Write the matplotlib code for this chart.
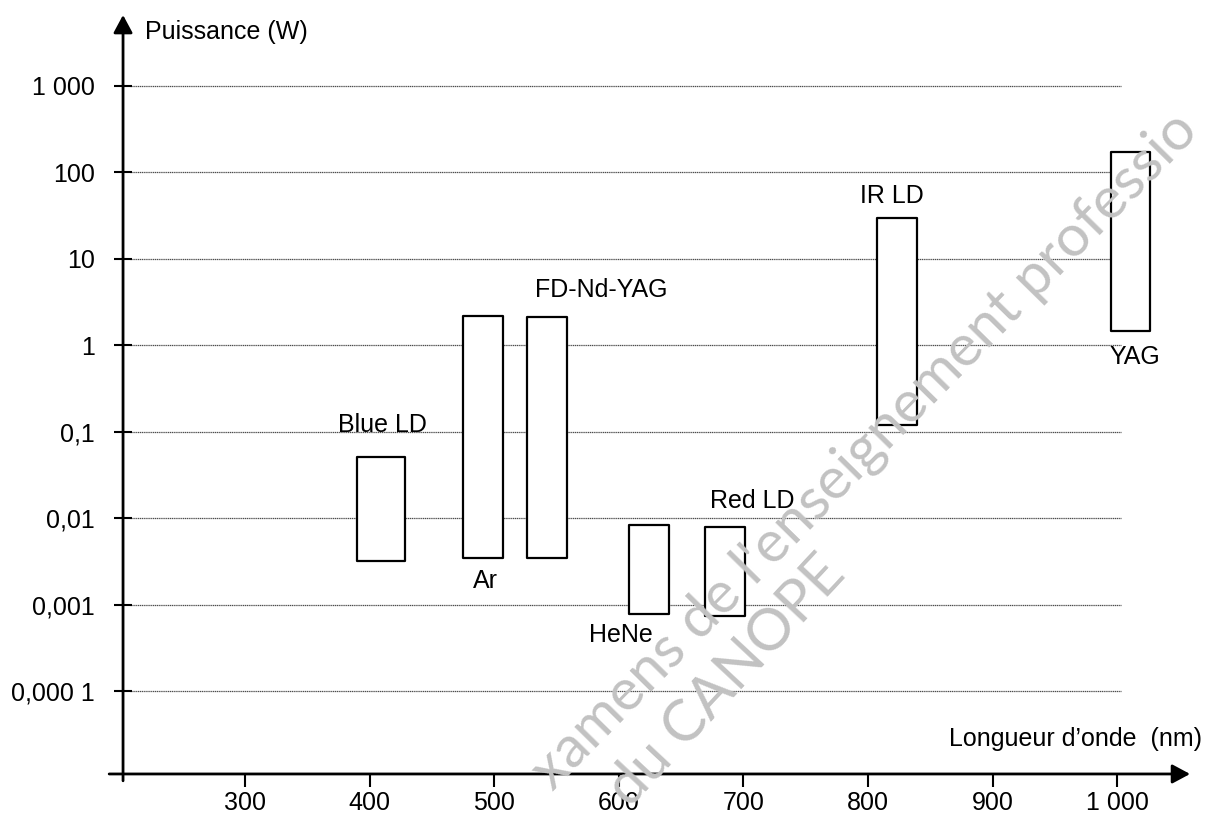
import matplotlib
matplotlib.use('Agg')
import matplotlib.pyplot as plt

plt.rcParams['font.family'] = ['Liberation Sans', 'DejaVu Sans']

# lasers: wavelength span (nm) and power span (W)
names = ['Blue LD', 'Ar', 'FD-Nd-YAG', 'HeNe', 'Red LD', 'IR LD', 'YAG']
lam_min = [390, 475, 526, 608, 669, 807, 995]
lam_max = [428, 507, 558, 640, 701, 839, 1026]
p_min = [0.0032, 0.0035, 0.0035, 0.00078, 0.00074, 0.12, 1.45]
p_max = [0.051, 2.2, 2.1, 0.0084, 0.0079, 30, 174]

# label positions (nm, W)
lab_x = [410, 493, 586, 602, 707, 819, 1014]
lab_y = [0.121, 0.00186, 4.4, 0.00045, 0.0159, 53, 0.73]

yticks = [1e-4, 1e-3, 1e-2, 1e-1, 1, 10, 100, 1000]
ylabels = ['0,000 1', '0,001', '0,01', '0,1', '1', '10', '100', '1 000']
xticks = [300, 400, 500, 600, 700, 800, 900, 1000]
xlabels = ['300', '400', '500', '600', '700', '800', '900', '1 000']

fig = plt.figure(figsize=(12.11, 8.16), dpi=100)
ax = fig.add_axes([0.1016, 0.0515, 0.8811, 0.9301])
ax.set_yscale('log')
ax.set_xlim(202.1, 1058.4)
ax.set_ylim(1.096e-5, 6622)

for s in ax.spines.values():
    s.set_visible(False)

# axes with arrows
arrow = dict(arrowstyle='-|>,head_length=0.54,head_width=0.29', lw=2, color='k',
             mutation_scale=20, shrinkA=0, shrinkB=0)
ax.annotate('', xy=(0, 1), xycoords='axes fraction', xytext=(0, -0.009), arrowprops=arrow)
ax.annotate('', xy=(1, 0), xycoords='axes fraction', xytext=(-0.013, 0), arrowprops=arrow)

# dotted grid
ax.hlines(yticks, 207.7, 1003, colors='0.3', lw=0.9, linestyles=(0, (1, 0.5)), zorder=1)

ax.set_yticks(yticks)
ax.set_yticklabels(ylabels)
ax.minorticks_off()
ax.set_xticks(xticks)
ax.set_xticklabels(xlabels)
ax.tick_params(axis='y', direction='inout', length=13, width=1.5, pad=14, labelsize=18)
ax.tick_params(axis='x', direction='out', length=9.5, width=1.5, pad=3, labelsize=18)

for i in range(len(names)):
    ax.fill_between([lam_min[i], lam_max[i]], p_min[i], p_max[i],
                    facecolor='white', edgecolor='black', lw=1.6, zorder=3)
    ax.text(lab_x[i], lab_y[i], names[i], ha='center', va='center', fontsize=18, zorder=4)

ax.text(219.8, 4217, 'Puissance (W)', ha='left', va='center', fontsize=18)
ax.text(1068, 2.79e-5, 'Longueur d\u2019onde  (nm)', ha='right', va='center',
        fontsize=18, clip_on=False)

# watermark (only the part visible in the frame)
fig.text(0.714, 0.447, "xamens de l'enseignement professio", rotation=45.5,
         rotation_mode='anchor', ha='center', va='center', fontsize=42,
         color='#c2c2c2', family='Lato', zorder=5)
fig.text(0.600, 0.165, 'du CANOPE', rotation=47, rotation_mode='anchor',
         ha='center', va='center', fontsize=42, color='#c2c2c2',
         family='Lato', zorder=5)

plt.savefig('out.png', dpi=100)
